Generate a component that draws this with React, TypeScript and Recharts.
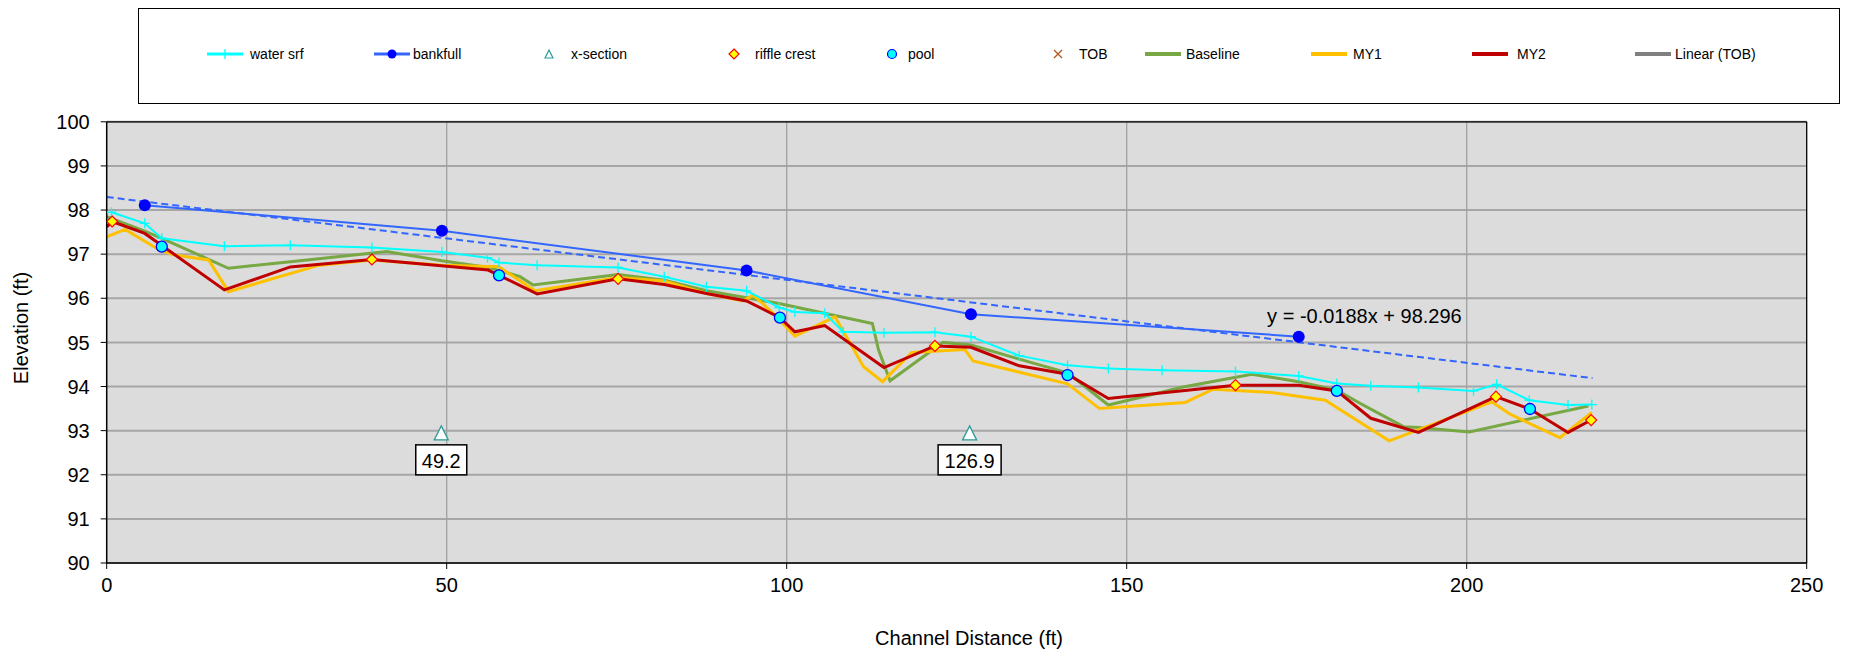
import React from "react";
import {
  ComposedChart,
  Line,
  Scatter,
  XAxis,
  YAxis,
  CartesianGrid,
  ReferenceLine,
  ReferenceDot,
} from "recharts";

type Pt = [number, number];

// axis ticks
const xTicks = [0, 50, 100, 150, 200, 250];
const yTicks = [90, 91, 92, 93, 94, 95, 96, 97, 98, 99, 100];
const vGrid = [50, 100, 150, 200];

// series (station ft, elevation ft)
const waterSrf: Pt[] = [
  [0.7, 97.95], [5.6, 97.7], [8.1, 97.36], [17.3, 97.18], [27.0, 97.2], [39.0, 97.15],
  [49.3, 97.05], [56.0, 96.92], [57.7, 96.81], [63.3, 96.75], [75.2, 96.7], [82.0, 96.49],
  [88.2, 96.26], [94.1, 96.17], [98.9, 95.79], [101.2, 95.69], [105.6, 95.66], [108.3, 95.24],
  [114.3, 95.22], [121.8, 95.23], [127.1, 95.13], [134.2, 94.7], [141.3, 94.48], [147.3, 94.41],
  [155.2, 94.37], [166.0, 94.34], [175.3, 94.24], [180.9, 94.07], [185.9, 94.02], [192.9, 93.98],
  [201.0, 93.9], [204.4, 94.05], [209.2, 93.69], [214.9, 93.58], [218.4, 93.59],
];

const bankfull: Pt[] = [
  [5.6, 98.11], [49.3, 97.53], [94.1, 96.63], [127.1, 95.64], [175.3, 95.13],
];

const xSection: Pt[] = [[49.2, 92.95], [126.9, 92.95]];
const xSectionLabels = ["49.2", "126.9"];

const riffleCrest: Pt[] = [
  [0.8, 97.74], [39.0, 96.88], [75.2, 96.44], [121.8, 94.92], [166.0, 94.03], [204.3, 93.77], [218.3, 93.24],
];

const pool: Pt[] = [
  [8.1, 97.17], [57.7, 96.52], [99.0, 95.56], [141.3, 94.26], [180.9, 93.9], [209.3, 93.49],
];

const baseline: Pt[] = [
  [0, 97.85], [5.6, 97.52], [8.1, 97.36], [17.9, 96.68], [27.0, 96.83], [41.2, 97.06],
  [49.3, 96.85], [56.1, 96.7], [60.8, 96.49], [62.7, 96.3], [75.2, 96.54], [82.0, 96.41],
  [88.2, 96.17], [94.1, 96.01], [98.9, 95.88], [112.6, 95.43], [113.5, 94.83], [115.2, 94.13],
  [123.0, 95.0], [127.1, 94.94], [134.2, 94.62], [141.3, 94.31], [147.3, 93.58], [158.3, 93.99],
  [168.4, 94.28], [175.3, 94.11], [180.9, 93.92], [184.3, 93.62], [190.7, 93.09], [192.9, 93.07],
  [200.4, 92.97], [217.9, 93.56],
];

const my1: Pt[] = [
  [0, 97.39], [2.7, 97.56], [7.8, 97.09], [10.0, 96.98], [15.0, 96.87], [17.9, 96.15],
  [31.0, 96.74], [39.0, 96.87], [49.3, 96.75], [56.1, 96.72], [57.6, 96.72], [63.0, 96.17],
  [75.2, 96.47], [82.0, 96.39], [88.2, 96.11], [93.6, 95.94], [95.1, 96.07], [98.0, 95.66],
  [101.2, 95.14], [107.1, 95.58], [111.3, 94.45], [114.1, 94.11], [118.4, 94.77], [126.2, 94.84],
  [127.4, 94.58], [141.3, 94.06], [146.0, 93.5], [158.6, 93.64], [162.7, 93.94], [171.6, 93.86],
  [179.2, 93.69], [188.6, 92.77], [203.7, 93.65], [206.4, 93.37], [213.7, 92.84], [218.4, 93.41],
];

const my2: Pt[] = [
  [0, 97.62], [0.8, 97.74], [5.6, 97.47], [17.3, 96.19], [27.0, 96.71], [39.0, 96.88],
  [56.1, 96.64], [57.7, 96.52], [63.3, 96.1], [75.2, 96.44], [82.0, 96.31], [88.2, 96.11],
  [94.1, 95.94], [99.0, 95.56], [101.2, 95.24], [105.6, 95.38], [114.3, 94.43], [121.8, 94.92],
  [127.1, 94.89], [134.2, 94.47], [141.3, 94.28], [147.3, 93.73], [166.0, 94.03], [175.3, 94.03],
  [180.9, 93.9], [185.9, 93.28], [192.9, 92.96], [204.3, 93.77], [209.3, 93.49], [214.9, 92.96],
  [218.3, 93.24],
];

// linear trendline on TOB
const trendLine: Pt[] = [[0, 98.296], [218.5, 94.19]];
const trendText = "y = -0.0188x + 98.296";
const trendTextAt: Pt = [170.5, 95.6];

const FONT = "'Liberation Sans', Arial, sans-serif";

const rows = (pts: Pt[], labels?: string[]) =>
  pts.map(([x, y], i) => ({ x, y, label: labels ? labels[i] : undefined }));

const C = {
  water: "#00FFFF",
  bankLine: "#3366FF",
  bankDot: "#0000FF",
  xsec: "#2E9A9A",
  riffleFill: "#FFFF00",
  riffleStroke: "#FF0000",
  poolFill: "#00FFFF",
  poolStroke: "#0000FF",
  tob: "#B5561B",
  baseline: "#77A843",
  my1: "#FFC000",
  my2: "#C00000",
  linear: "#808080",
};

const plusPath = (cx: number, cy: number, s: number) =>
  `M${cx - s},${cy}H${cx + s}M${cx},${cy - s}V${cy + s}`;
const diamondPath = (cx: number, cy: number, s: number) =>
  `M${cx},${cy - s}L${cx + s},${cy}L${cx},${cy + s}L${cx - s},${cy}Z`;
const triPath = (cx: number, cy: number, s: number) =>
  `M${cx},${cy - s}L${cx + s},${cy + s}L${cx - s},${cy + s}Z`;

const WaterDot = (p: any) => (
  <path key={`w${p.index}`} d={plusPath(p.cx, p.cy, 5)} stroke={C.water} strokeWidth={1.3} fill="none" />
);
const BankDot = (p: any) => <circle key={`b${p.index}`} cx={p.cx} cy={p.cy} r={6} fill={C.bankDot} />;

const XSecShape = (p: any) => {
  const label: string = p.payload?.label ?? "";
  const w = label.length * 12 + 3;
  return (
    <g>
      <path d={triPath(p.cx, p.cy, 7)} fill="#FFFFFF" stroke={C.xsec} strokeWidth={1.3} />
      <rect x={p.cx - w / 2} y={p.cy + 12} width={w} height={30} fill="#FFFFFF" stroke="#000" strokeWidth={1.5} />
      <text x={p.cx} y={p.cy + 28} textAnchor="middle" dominantBaseline="central" fontSize={20} fontFamily={FONT} fill="#000">
        {label}
      </text>
    </g>
  );
};
const RiffleShape = (p: any) => (
  <path d={diamondPath(p.cx, p.cy, 5.5)} fill={C.riffleFill} stroke={C.riffleStroke} strokeWidth={1.2} />
);
const PoolShape = (p: any) => (
  <circle cx={p.cx} cy={p.cy} r={5.5} fill={C.poolFill} stroke={C.poolStroke} strokeWidth={1.3} />
);

const legendItems = [
  { name: "water srf", kind: "lineplus", color: C.water, cx: 217, tx: 242 },
  { name: "bankfull", kind: "linedot", color: C.bankLine, cx: 384, tx: 405 },
  { name: "x-section", kind: "tri", color: C.xsec, cx: 541, tx: 563 },
  { name: "riffle crest", kind: "diamond", color: C.riffleStroke, cx: 726, tx: 747 },
  { name: "pool", kind: "circle", color: C.poolStroke, cx: 884, tx: 900 },
  { name: "TOB", kind: "x", color: C.tob, cx: 1050, tx: 1071 },
  { name: "Baseline", kind: "line", color: C.baseline, cx: 1155, tx: 1178 },
  { name: "MY1", kind: "line", color: C.my1, cx: 1321, tx: 1345 },
  { name: "MY2", kind: "line", color: C.my2, cx: 1482, tx: 1509 },
  { name: "Linear (TOB)", kind: "line", color: C.linear, cx: 1645, tx: 1667 },
];

function LegendSample({ kind, color, cx, cy }: { kind: string; color: string; cx: number; cy: number }) {
  const seg = <line x1={cx - 18} y1={cy} x2={cx + 18} y2={cy} stroke={color} strokeWidth={kind === "line" ? 4 : 3} />;
  switch (kind) {
    case "lineplus":
      return (
        <g>
          {seg}
          <path d={plusPath(cx, cy, 5)} stroke={color} strokeWidth={1.3} />
        </g>
      );
    case "linedot":
      return (
        <g>
          {seg}
          <circle cx={cx} cy={cy} r={4.5} fill={C.bankDot} />
        </g>
      );
    case "tri":
      return <path d={triPath(cx, cy, 4)} fill="#FFFFFF" stroke={color} strokeWidth={1.2} />;
    case "diamond":
      return <path d={diamondPath(cx, cy, 5)} fill={C.riffleFill} stroke={color} strokeWidth={1.2} />;
    case "circle":
      return <circle cx={cx} cy={cy} r={4.5} fill={C.poolFill} stroke={color} strokeWidth={1.2} />;
    case "x":
      return <path d={`M${cx - 4},${cy - 4}L${cx + 4},${cy + 4}M${cx + 4},${cy - 4}L${cx - 4},${cy + 4}`} stroke={color} strokeWidth={1.3} />;
    default:
      return seg;
  }
}

export default function App() {
  const W = 1834;
  const H = 639;
  return (
    <div style={{ position: "relative", width: W, height: H + 8, fontFamily: FONT }}>
      <ComposedChart width={W} height={H} margin={{ top: 113.8, right: 35.3, left: 0, bottom: 24 }}>
        <CartesianGrid vertical={false} stroke="#A6A6A6" strokeWidth={2} fill="#DCDCDC" />
        {vGrid.map((v) => (
          <ReferenceLine key={v} x={v} stroke="#A0A0A0" strokeWidth={1.3} />
        ))}
        <ReferenceLine y={100} stroke="#000" strokeWidth={1.3} />
        <ReferenceLine x={250} stroke="#000" strokeWidth={1.3} />
        <XAxis
          type="number"
          dataKey="x"
          domain={[0, 250]}
          ticks={xTicks}
          interval={0}
          height={60}
          tickSize={6}
          tickMargin={9}
          allowDataOverflow
          axisLine={{ stroke: "#000", strokeWidth: 1.5 }}
          tickLine={{ stroke: "#000" }}
          tick={{ fontSize: 20, fill: "#000", fontFamily: FONT }}
        />
        <YAxis
          type="number"
          dataKey="y"
          domain={[90, 100]}
          ticks={yTicks}
          interval={0}
          width={98.7}
          tickSize={6}
          tickMargin={11}
          allowDataOverflow
          axisLine={{ stroke: "#000", strokeWidth: 1.5 }}
          tickLine={{ stroke: "#000" }}
          tick={{ fontSize: 20, fill: "#000", fontFamily: FONT }}
        />
        <Line data={rows(baseline)} dataKey="y" stroke={C.baseline} strokeWidth={3} dot={false} isAnimationActive={false} />
        <Line data={rows(my1)} dataKey="y" stroke={C.my1} strokeWidth={3} dot={false} isAnimationActive={false} />
        <Line data={rows(my2)} dataKey="y" stroke={C.my2} strokeWidth={3} dot={false} isAnimationActive={false} />
        <Line data={rows(waterSrf)} dataKey="y" stroke={C.water} strokeWidth={2} dot={WaterDot} isAnimationActive={false} />
        <Line data={rows(trendLine)} dataKey="y" stroke={C.bankLine} strokeWidth={2} strokeDasharray="7 4" dot={false} isAnimationActive={false} />
        <Line data={rows(bankfull)} dataKey="y" stroke={C.bankLine} strokeWidth={2} dot={BankDot} isAnimationActive={false} />
        <Scatter data={rows(xSection, xSectionLabels)} dataKey="y" shape={XSecShape} isAnimationActive={false} />
        <Scatter data={rows(pool)} dataKey="y" shape={PoolShape} isAnimationActive={false} />
        <Scatter data={rows(riffleCrest)} dataKey="y" shape={RiffleShape} isAnimationActive={false} />
        <ReferenceDot
          x={trendTextAt[0]}
          y={trendTextAt[1]}
          r={1}
          fill="none"
          stroke="none"
          label={{ value: trendText, position: "right", offset: 0, fontSize: 20, fill: "#000", fontFamily: FONT }}
        />
      </ComposedChart>
      <svg
        width={W}
        height={H + 8}
        style={{ position: "absolute", left: 0, top: 0, pointerEvents: "none", overflow: "visible" }}
      >
        <rect x={130.5} y={0.5} width={1701} height={95} fill="none" stroke="#000" strokeWidth={1} />
        {legendItems.map((it) => (
          <g key={it.name}>
            <LegendSample kind={it.kind} color={it.color} cx={it.cx} cy={46} />
            <text x={it.tx} y={46} dominantBaseline="central" fontSize={14} fontFamily={FONT} fill="#000">
              {it.name}
            </text>
          </g>
        ))}
        <text
          x={13}
          y={320}
          transform="rotate(-90 13 320)"
          textAnchor="middle"
          dominantBaseline="central"
          fontSize={20}
          fontFamily={FONT}
          fill="#000"
        >
          Elevation (ft)
        </text>
        <text x={961} y={630} textAnchor="middle" dominantBaseline="central" fontSize={20} fontFamily={FONT} fill="#000">
          Channel Distance (ft)
        </text>
      </svg>
    </div>
  );
}
